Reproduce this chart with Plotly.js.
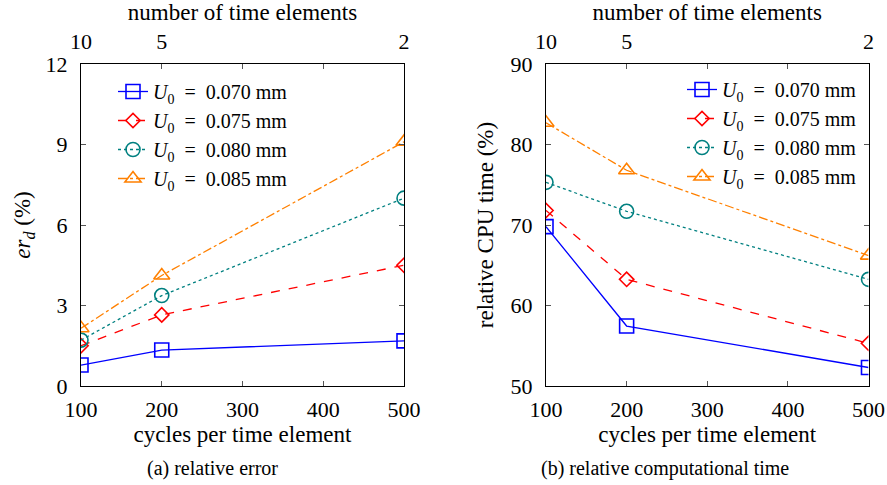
<!DOCTYPE html>
<html><head><meta charset="utf-8">
<script src="https://cdn.plot.ly/plotly-3.0.1.min.js"></script>
<style>html,body{margin:0;padding:0;background:#fff}</style>
</head><body><div id="chart" style="width:887px;height:485px"></div>
<script>
const cycles = [100, 200, 500];
const elemTickVals = [100, 200, 500];
const elemTickText = ['10', '5', '2'];
const seriesNames = ['<i>U</i><sub>0</sub>&nbsp;&nbsp;=&nbsp;&nbsp;0.070&nbsp;mm', '<i>U</i><sub>0</sub>&nbsp;&nbsp;=&nbsp;&nbsp;0.075&nbsp;mm', '<i>U</i><sub>0</sub>&nbsp;&nbsp;=&nbsp;&nbsp;0.080&nbsp;mm', '<i>U</i><sub>0</sub>&nbsp;&nbsp;=&nbsp;&nbsp;0.085&nbsp;mm'];
const errU070 = [0.78, 1.34, 1.68];
const errU075 = [1.50, 2.65, 4.50];
const errU080 = [1.71, 3.37, 7.00];
const errU085 = [2.15, 4.12, 9.10];
const cpuU070 = [69.8, 57.45, 52.3];
const cpuU075 = [71.8, 63.25, 55.3];
const cpuU080 = [75.3, 71.7, 63.25];
const cpuU085 = [82.7, 76.8, 66.2];

const colors = ['#0000ff', '#ff0000', '#008080', '#ff8000'];
const dashes = ['solid', 'dash', 'dot', 'dashdot'];
const symbols = ['square-open', 'diamond-open', 'circle-open', 'triangle-up-open'];
const sizes = [14, 11, 14, 14];
const F = "'Liberation Serif', 'DejaVu Serif', 'Times New Roman', Times, serif";
const fnt = (s) => ({family: F, size: s, color: '#000'});

const errSeries = [errU070, errU075, errU080, errU085];
const cpuSeries = [cpuU070, cpuU075, cpuU080, cpuU085];
const traces = [];
const mk = (ys, i, xa, ya, lg) => ({
  x: cycles, y: ys, name: seriesNames[i], type: 'scatter', mode: 'lines+markers',
  xaxis: xa, yaxis: ya, legend: lg,
  line: {color: colors[i], dash: dashes[i], width: 1.3},
  marker: {symbol: symbols[i], size: sizes[i], color: colors[i], line: {width: 1.6, color: colors[i]}}
});
errSeries.forEach((ys, i) => traces.push(mk(ys, i, 'x', 'y', 'legend')));
cpuSeries.forEach((ys, i) => traces.push(mk(ys, i, 'x2', 'y2', 'legend2')));
// hidden carriers for the top axes
traces.push({x: cycles, y: [null, null, null], xaxis: 'x3', yaxis: 'y', showlegend: false, hoverinfo: 'skip', mode: 'markers'});
traces.push({x: cycles, y: [null, null, null], xaxis: 'x4', yaxis: 'y2', showlegend: false, hoverinfo: 'skip', mode: 'markers'});

const yDom = [1 - 386/485, 1 - 64/485];
const base = () => ({showline: true, linecolor: '#000', linewidth: 1.2, ticks: 'inside', ticklen: 5, tickcolor: '#555',
  mirror: 'ticks', showgrid: false, zeroline: false, tickfont: fnt(22)});
const xb = (dom, anchor) => Object.assign(base(), {domain: dom, anchor: anchor, range: [100, 500], tickvals: [100, 200, 300, 400, 500],
  ticklabelstandoff: 3, title: {text: 'cycles per time element', font: fnt(23), standoff: 5}});
const xt = (dom, over, anchor) => ({domain: dom, overlaying: over, anchor: anchor, side: 'top', range: [100, 500],
  tickvals: elemTickVals, ticktext: elemTickText, ticks: '', showline: false, showgrid: false, zeroline: false, tickfont: fnt(22),
  ticklabelstandoff: 10, title: {text: 'number of time elements', font: fnt(23), standoff: 4}});

const layout = {
  width: 887, height: 485, margin: {l: 0, r: 0, t: 0, b: 0},
  paper_bgcolor: '#fff', plot_bgcolor: '#fff', font: fnt(18),
  xaxis: xb([81/887, 404/887], 'y'),
  yaxis: Object.assign(base(), {domain: yDom, anchor: 'x', range: [0, 12], tickvals: [0, 3, 6, 9, 12], ticklabelstandoff: 8,
    title: {text: '<i>er</i><sub><i>d</i></sub> (%)', font: fnt(23), standoff: 8}}),
  xaxis2: xb([546/887, 868.5/887], 'y2'),
  yaxis2: Object.assign(base(), {domain: yDom, anchor: 'x2', range: [50, 90], tickvals: [50, 60, 70, 80, 90], ticklabelstandoff: 8,
    title: {text: 'relative CPU time (%)', font: fnt(23), standoff: 10}}),
  xaxis3: xt([81/887, 404/887], 'x', 'y'),
  xaxis4: xt([546/887, 868.5/887], 'x2', 'y2'),
  legend: {x: 113/887, y: 1 - 72/485, xanchor: 'left', yanchor: 'top', bgcolor: 'rgba(0,0,0,0)',
    font: fnt(20), itemwidth: 30, tracegroupgap: 0},
  legend2: {x: 862/887, y: 1 - 70/485, xanchor: 'right', yanchor: 'top', bgcolor: 'rgba(0,0,0,0)',
    font: fnt(20), itemwidth: 30, tracegroupgap: 0},
  annotations: [
    {text: '(a) relative error', xref: 'paper', yref: 'paper', x: 212/887, y: 1 - 468/485, showarrow: false,
      font: fnt(20), xanchor: 'center', yanchor: 'middle'},
    {text: '(b) relative computational time', xref: 'paper', yref: 'paper', x: 665/887, y: 1 - 468/485, showarrow: false,
      font: fnt(20), xanchor: 'center', yanchor: 'middle'}
  ]
};
Plotly.newPlot('chart', traces, layout, {staticPlot: true, displayModeBar: false});
</script></body></html>
